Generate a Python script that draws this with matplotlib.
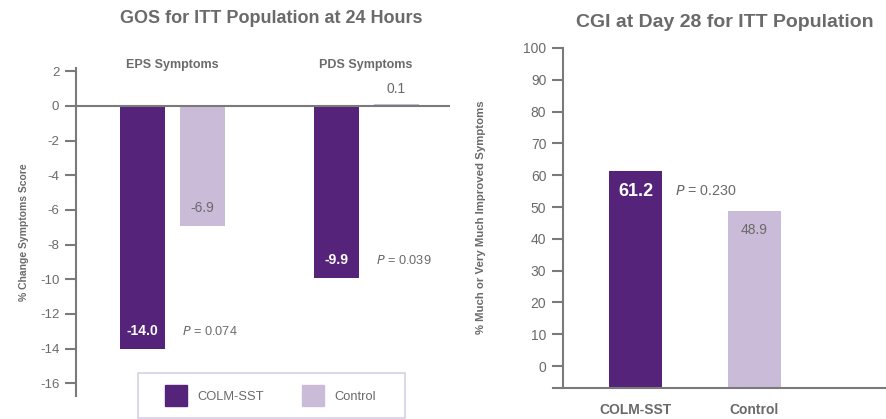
import numpy as np
import matplotlib
matplotlib.use("Agg")
import matplotlib.pyplot as plt
from matplotlib.patches import Rectangle, Patch

plt.rcParams['font.family'] = ['Liberation Sans', 'DejaVu Sans']
plt.rcParams['axes.unicode_minus'] = False

# data
groups = ['EPS Symptoms', 'PDS Symptoms']
colm_change = [-14.0, -9.9]
ctrl_change = [-6.9, 0.1]
gos_p = ['0.074', '0.039']

cgi_labels = ['COLM-SST', 'Control']
cgi_values = [61.2, 48.9]
cgi_p = '0.230'

dark = '#55247a'
light = '#cabcd9'
grey = '#6a6a6a'
axgrey = '#7a7a7a'

fig = plt.figure(figsize=(8.87, 4.19), dpi=100)

# ---- left panel: GOS
ax1 = fig.add_axes([0.0857, 0.0549, 0.4217, 0.7828])
x = np.arange(len(groups))
w = 0.233
off = 0.155
ax1.bar(x - off, colm_change, w, color=dark, zorder=2)
ax1.bar(x + off, ctrl_change, w, color=light, zorder=2)
ax1.set_xlim(-0.5, 1.434)
ax1.set_ylim(-16.73, 2.19)
ax1.set_yticks(np.arange(-16, 3, 2))
ax1.set_xticks([])
for s in ['top', 'right', 'bottom']:
    ax1.spines[s].set_visible(False)
ax1.spines['left'].set_color(axgrey)
ax1.spines['left'].set_linewidth(1.5)
ax1.axhline(0, color=axgrey, lw=1.5, zorder=3)
ax1.tick_params(axis='y', colors=axgrey, labelcolor=grey, length=8, width=1.5, labelsize=9.5, pad=4)
ax1.set_ylabel('% Change Symptoms Score', fontsize=7.5, fontweight='bold', color=grey, labelpad=8)

for i, g in enumerate(groups):
    ax1.text(x[i], 2.37, g, ha='center', va='center', fontsize=9, fontweight='bold', color=grey,
             clip_on=False)
    v = colm_change[i]
    ax1.text(x[i] - off, v + 1.0, f'{v:.1f}', ha='center', va='center', fontsize=10, fontweight='bold', color='white', zorder=4)
    c = ctrl_change[i]
    if c < 0:
        ax1.text(x[i] + off, c + 1.0, f'{c:.1f}', ha='center', va='center', fontsize=10, color=grey, zorder=4)
    else:
        ax1.text(x[i] + off, c + 0.45, f'{c:.1f}', ha='center', va='bottom', fontsize=10, color=grey, zorder=4)
    ax1.text(x[i] + off - 0.105, v + 1.0, r'$\it{P}$' + ' = ' + gos_p[i], ha='left', va='center', fontsize=9.2, color=grey)

fig.text(0.3055, 0.957, 'GOS for ITT Population at 24 Hours', ha='center', va='center',
         fontsize=13, fontweight='bold', color=grey)

# legend box
fig.add_artist(Rectangle((0.1556, 0.003), 0.301, 0.107, transform=fig.transFigure,
                         fill=False, edgecolor='#d8cfe6', lw=1.2))
handles = [Patch(color=dark, label='COLM-SST'), Patch(color=light, label='Control')]
fig.legend(handles=handles, loc='center', bbox_to_anchor=(0.305, 0.056), ncol=2, frameon=False,
           fontsize=9.3, labelcolor=grey, handlelength=1.75, handleheight=2.1,
           handletextpad=0.8, columnspacing=2.9)

# ---- right panel: CGI
ax2 = fig.add_axes([0.6234, 0.074, 0.3766, 0.8138])
xr = np.arange(len(cgi_labels))
ymin = -6.9
ax2.bar(xr, np.array(cgi_values) - ymin, 0.447, bottom=ymin, color=[dark, light], zorder=2)
ax2.set_xlim(-0.696, 2.12)
ax2.set_ylim(ymin, 100.3)
ax2.set_yticks(np.arange(0, 101, 10))
ax2.set_xticks(xr)
ax2.set_xticklabels(cgi_labels, fontsize=10, fontweight='bold', color=grey)
ax2.spines['top'].set_visible(False)
ax2.spines['right'].set_visible(False)
ax2.spines['left'].set_position(('data', -0.612))
ax2.spines['left'].set_bounds(ymin, 100)
for s in ['left', 'bottom']:
    ax2.spines[s].set_color(axgrey)
    ax2.spines[s].set_linewidth(1.5)
ax2.tick_params(axis='y', colors=axgrey, labelcolor=grey, length=8, width=1.5, labelsize=10, pad=4)
ax2.tick_params(axis='x', length=0, pad=11)
ax2.set_ylabel('% Much or Very Much Improved Symptoms', fontsize=8.2, fontweight='bold', color=grey)
ax2.yaxis.set_label_coords(-0.2, 0.5)

ax2.text(xr[0], cgi_values[0] - 6.3, f'{cgi_values[0]:.1f}', ha='center', va='center',
         fontsize=13, fontweight='bold', color='white', zorder=4)
ax2.text(xr[1], cgi_values[1] - 6.0, f'{cgi_values[1]:.1f}', ha='center', va='center',
         fontsize=10, color=grey, zorder=4)
ax2.text(xr[0] + 0.33, cgi_values[0] - 6.3, r'$\it{P}$' + ' = ' + cgi_p, ha='left', va='center',
         fontsize=10.3, color=grey)

fig.text(0.817, 0.947, 'CGI at Day 28 for ITT Population', ha='center', va='center',
         fontsize=14, fontweight='bold', color=grey)

fig.savefig('out.png', dpi=100)
